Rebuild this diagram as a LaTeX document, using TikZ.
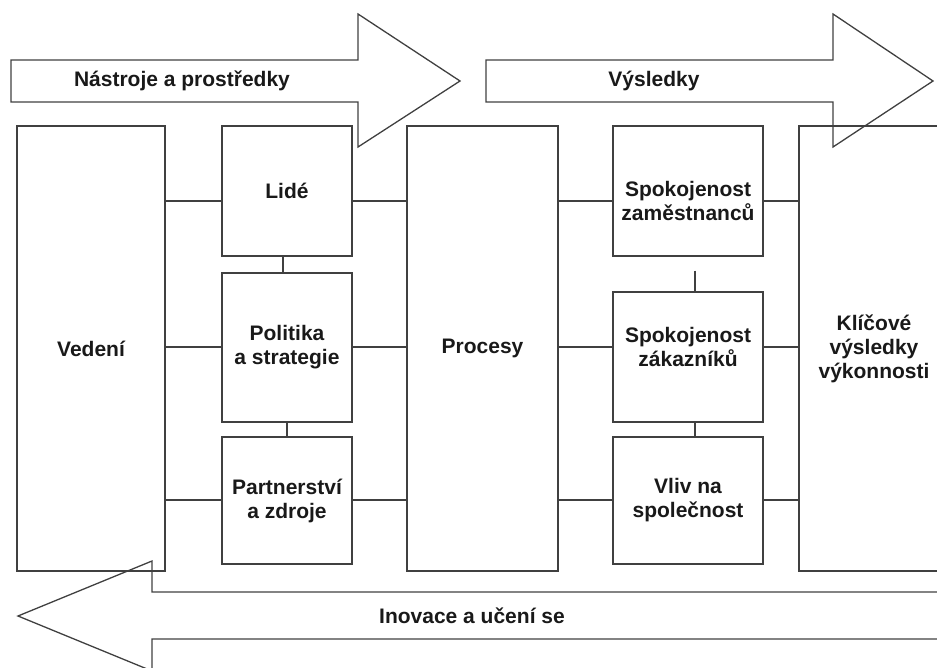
\documentclass[tikz,border=0pt]{standalone}
\usepackage{fontspec}
\setmainfont{Liberation Sans}
\usetikzlibrary{calc}
\begin{document}
\begin{tikzpicture}[x=1pt,y=-1pt,
  ln/.style={draw=black!75, line width=1.3pt},
  txt/.style={align=center, font=\bfseries\fontsize{21}{24}\selectfont, text=black!90},
  box/.style={ln, inner sep=0pt, txt}]
\useasboundingbox (0,0) rectangle (937,668);
\clip (0,0) rectangle (937,668);
% big arrows
\draw[ln] (11,60) -- (358,60) -- (358,14) -- (460,81) -- (358,147) -- (358,102) -- (11,102) -- cycle;
\node[txt] (t1) at (182,81) {Nástroje a prostředky};
\draw[ln] (486,60) -- (833,60) -- (833,14) -- (933,81) -- (833,147) -- (833,102) -- (486,102) -- cycle;
\node[txt] (t2) at (654,81) {Výsledky};
\draw[ln] (950,592) -- (152,592) -- (152,561) -- (18,616) -- (152,671) -- (152,639) -- (950,639);
\node[txt] (t3) at (472,616) {Inovace a učení se};
% boxes
\node[box, minimum width=148pt, minimum height=445pt] (vedeni) at (91,348.5) {Vedení};
\node[box, minimum width=130pt, minimum height=130pt] (lide) at (287,191) {Lidé};
\node[box, minimum width=130pt, minimum height=149pt] (polit) at (287,347.5) {Politika\\a strategie};
\node[box, minimum width=130pt, minimum height=127pt] (partn) at (287,500.5) {Partnerství\\a zdroje};
\node[box, minimum width=151pt, minimum height=445pt] (procesy) at (482.5,348.5) {Procesy};
\node[box, minimum width=150pt, minimum height=130pt] (sz) at (688,191) {};
\node[txt] (szt) at (688,201) {Spokojenost\\zaměstnanců};
\node[box, minimum width=150pt, minimum height=130pt] (szak) at (688,357) {};
\node[txt] (szakt) at (688,347) {Spokojenost\\zákazníků};
\node[box, minimum width=150pt, minimum height=127pt] (vliv) at (688,500.5) {Vliv na\\společnost};
\node[box, minimum width=150pt, minimum height=445pt] (klic) at (874,348.5) {Klíčové\\výsledky\\výkonnosti};
% connector rows / columns
\coordinate (r1) at (0,201);
\coordinate (r2) at (0,347);
\coordinate (r3) at (0,500);
\coordinate (c1) at (283,0);
\coordinate (c2) at (287,0);
\coordinate (c3) at (695,0);
\draw[ln] (vedeni.east |- r1) -- (lide.west |- r1);
\draw[ln] (vedeni.east |- r2) -- (polit.west |- r2);
\draw[ln] (vedeni.east |- r3) -- (partn.west |- r3);
\draw[ln] (lide.east |- r1) -- (procesy.west |- r1);
\draw[ln] (polit.east |- r2) -- (procesy.west |- r2);
\draw[ln] (partn.east |- r3) -- (procesy.west |- r3);
\draw[ln] (procesy.east |- r1) -- (sz.west |- r1);
\draw[ln] (procesy.east |- r2) -- (szak.west |- r2);
\draw[ln] (procesy.east |- r3) -- (vliv.west |- r3);
\draw[ln] (sz.east |- r1) -- (klic.west |- r1);
\draw[ln] (szak.east |- r2) -- (klic.west |- r2);
\draw[ln] (vliv.east |- r3) -- (klic.west |- r3);
\draw[ln] (lide.south -| c1) -- (polit.north -| c1);
\draw[ln] (polit.south -| c2) -- (partn.north -| c2);
\draw[ln] ($(sz.south -| c3)+(0,14)$) -- (szak.north -| c3);
\draw[ln] (szak.south -| c3) -- (vliv.north -| c3);
\end{tikzpicture}
\end{document}
